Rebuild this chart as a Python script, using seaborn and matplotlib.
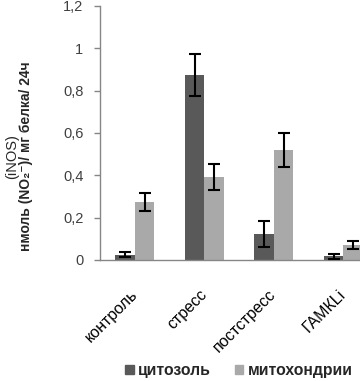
import pandas as pd
import seaborn as sns
import matplotlib.pyplot as plt

# data
groups = ['контроль', 'стресс', 'постстресс', 'ГАМКLi']
fractions = ['цитозоль', 'митохондрии']
cytosol = [0.025, 0.875, 0.123, 0.017]
cytosol_err = [0.011, 0.100, 0.062, 0.012]
mito = [0.275, 0.392, 0.518, 0.070]
mito_err = [0.042, 0.060, 0.080, 0.020]
yticks = [0, 0.2, 0.4, 0.6, 0.8, 1.0, 1.2]
ytick_labels = ['0', '0,2', '0,4', '0,6', '0,8', '1', '1,2']

df = pd.DataFrame({
    'group': groups * 2,
    'fraction': [fractions[0]] * 4 + [fractions[1]] * 4,
    'value': cytosol + mito,
})
errs = [cytosol_err, mito_err]

sns.set_theme(style='white')
plt.rcParams['font.family'] = ['Liberation Sans', 'DejaVu Sans']

fig = plt.figure(figsize=(3.6, 3.81), dpi=100)
ax = fig.add_axes([0.278, 0.3176, 0.772, 0.6667])

sns.barplot(data=df, x='group', y='value', hue='fraction', hue_order=fractions,
            palette=['#595959', '#a9a9a9'], width=0.56, gap=0, ax=ax, legend=False,
            errorbar=None, linewidth=0)

for cont, err in zip(ax.containers, errs):
    xs = [b.get_x() + b.get_width() / 2 for b in cont]
    ys = [b.get_height() for b in cont]
    ax.errorbar(xs, ys, yerr=err, fmt='none', ecolor='black', elinewidth=1.5,
                capsize=4, capthick=1.5, zorder=5)

ax.set_xlim(-0.5, 3.5)
ax.set_ylim(0, 1.2)
ax.set_yticks(yticks)
ax.set_yticklabels(ytick_labels, fontsize=10.5, color='#404040')
ax.set_xlabel('')
ax.set_ylabel('')
ax.tick_params(axis='y', length=4, width=1, color='#868686', pad=8, left=True)
ax.tick_params(axis='x', length=0, pad=23)
plt.setp(ax.get_xticklabels(), rotation=45, ha='right', va='center',
         rotation_mode='anchor', fontsize=11.5, color='black')
sns.despine(ax=ax, top=True, right=True)
for s in ['left', 'bottom']:
    ax.spines[s].set_color('#868686')
    ax.spines[s].set_linewidth(1)

fig.text(0.034, 0.59, '(iNOS)', rotation=90, ha='center', va='center', fontsize=10.5)
fig.text(0.073, 0.59, 'нмоль (NO₂⁻)/ мг белка/ 24ч', rotation=90, ha='center',
         va='center', fontsize=10, fontweight='bold')

handles = [plt.Rectangle((0, 0), 1, 1, color=c) for c in ['#595959', '#a9a9a9']]
fig.legend(handles, fractions, loc='center', bbox_to_anchor=(0.664, 0.028), ncol=2,
           frameon=False, handlelength=0.55, handleheight=0.55, handletextpad=0.3,
           columnspacing=1.5, prop={'size': 11.3, 'weight': 'bold'})

fig.savefig('out.png', dpi=100)
